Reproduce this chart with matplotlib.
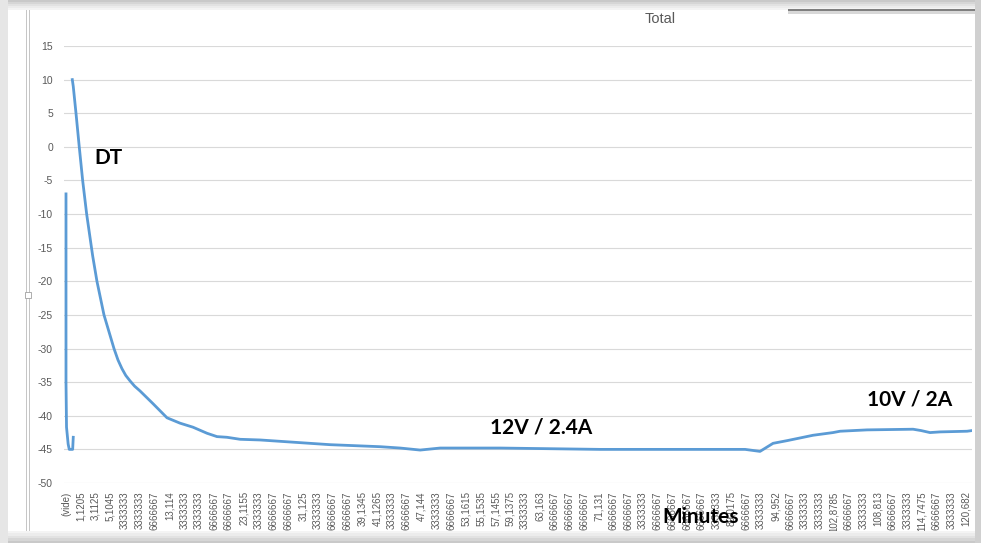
import matplotlib
matplotlib.use("Agg")
import matplotlib.pyplot as plt
from matplotlib.patches import Rectangle
import numpy as np

plt.rcParams["axes.unicode_minus"] = False

# first little spike sitting on the "(vide)" category
vide_minutes = [-0.87, -0.87, -0.80, -0.58, -0.43, 0.03, 0.11]
vide_values = [-7.0, -35.0, -41.7, -44.2, -45.0, -45.0, -43.2]

# main temperature trace (minutes, value)
minutes = [-0.02, 0.11, 0.48, 0.92, 1.38, 1.92, 2.73, 3.31, 4.26, 5.61,
           6.15, 6.69, 7.20, 7.77, 8.40, 9.12, 10.88, 12.77, 14.53, 16.28,
           18.17, 19.52, 20.87, 22.65, 25.35, 30.75, 34.80, 41.56, 44.26, 46.96,
           49.66, 57.76, 71.26, 84.76, 90.84, 92.86, 94.62, 96.51, 98.27, 100.02,
           102.72, 103.67, 107.31, 113.53, 114.61, 115.82, 117.17, 120.82, 121.49]
values = [10.0, 9.0, 5.0, 0.0, -5.0, -10.0, -16.2, -20.0, -25.0, -30.0,
          -31.7, -33.0, -34.0, -34.8, -35.6, -36.3, -38.2, -40.3, -41.1, -41.7,
          -42.6, -43.1, -43.2, -43.5, -43.6, -44.0, -44.3, -44.6, -44.8, -45.1,
          -44.8, -44.8, -45.0, -45.0, -45.0, -45.3, -44.1, -43.7, -43.3, -42.9,
          -42.5, -42.3, -42.1, -42.0, -42.2, -42.5, -42.4, -42.3, -42.2]

tick_minutes = [-0.87, 1.1205, 3.1125, 5.1045, 7.10, 9.10, 11.11, 13.114, 15.11, 17.11,
                19.12, 21.12, 23.1155, 25.12, 27.12, 29.12, 31.125, 33.13, 35.13, 37.13,
                39.1345, 41.1265, 43.14, 45.14, 47.144, 49.15, 51.15, 53.1615, 55.1535, 57.1455,
                59.1375, 61.14, 63.163, 65.16, 67.15, 69.14, 71.131, 73.11, 75.09, 77.08,
                79.06, 81.04, 83.02, 85.01, 86.99, 89.0175, 90.99, 92.97, 94.952, 96.93,
                98.91, 100.90, 102.8785, 104.86, 106.84, 108.813, 110.79, 112.77, 114.7475, 116.73,
                118.71, 120.682]
tick_labels = ["(vide)", "1,1205", "3,1125", "5,1045", "3333333", "3333333", "6666667", "13,114", "3333333", "3333333",
               "6666667", "6666667", "23,1155", "3333333", "6666667", "6666667", "31,125", "3333333", "6666667", "6666667",
               "39,1345", "41,1265", "3333333", "6666667", "47,144", "3333333", "6666667", "53,1615", "55,1535", "57,1455",
               "59,1375", "3333333", "63,163", "6666667", "6666667", "6666667", "71,131", "6666667", "6666667", "3333333",
               "6666667", "6666667", "6666667", "6666667", "3333333", "89,0175", "6666667", "3333333", "94,952", "6666667",
               "3333333", "3333333", "102,8785", "6666667", "3333333", "108,813", "6666667", "3333333", "114,7475", "6666667",
               "3333333", "120,682"]
y_ticks = [15, 10, 5, 0, -5, -10, -15, -20, -25, -30, -35, -40, -45, -50]

W, H = 981, 543
fig = plt.figure(figsize=(W / 100, H / 100), dpi=100)
fig.patch.set_facecolor("white")

ax = fig.add_axes([64 / W, 1 - 483 / H, (972 - 64) / W, (483 - 46) / H])
blue = "#5B9BD5"
ax.plot(vide_minutes, vide_values, color=blue, lw=2.0, solid_joinstyle="round")
ax.plot(minutes, values, color=blue, lw=2.0, solid_joinstyle="round")

ax.set_xlim(-1.14, 121.49)
ax.set_ylim(-50, 15)
ax.set_yticks(y_ticks)
ax.set_xticks(tick_minutes, labels=tick_labels, rotation=90)
ax.grid(axis="y", color="#D9D9D9", lw=0.8)
ax.grid(axis="x", visible=False)
ax.set_axisbelow(True)
for s in ax.spines.values():
    s.set_visible(False)
ax.tick_params(axis="y", length=0, pad=8, labelsize=7.5, labelcolor="#595959")
ax.tick_params(axis="x", length=0, pad=6, labelsize=7, labelcolor="#595959")
for t in ax.get_xticklabels() + ax.get_yticklabels():
    t.set_fontfamily(["Liberation Sans", "DejaVu Sans"])

# annotations
bold = dict(fontsize=15, fontweight="bold", color="black",
            family=["Lato", "DejaVu Sans"], ha="center", va="center")
fig.text(108 / W, 1 - 158 / H, "DT", **bold)
fig.text(541 / W, 1 - 428 / H, "12V / 2.4A", **bold)
fig.text(910 / W, 1 - 400 / H, "10V / 2A", **bold)
fig.text(701 / W, 1 - 517 / H, "Minutes", zorder=20, **bold)

fig.text(660 / W, 1 - 19 / H, "Total", fontsize=10.5, color="#595959",
         family=["Liberation Sans", "DejaVu Sans"], ha="center", va="center")

# window chrome around the screenshot
def px_rect(x0, y0, x1, y1, **kw):
    fig.patches.append(Rectangle((x0 / W, 1 - y1 / H), (x1 - x0) / W, (y1 - y0) / H,
                                 transform=fig.transFigure, zorder=15, **kw))

shades = ["#C9C9C9", "#D6D6D6", "#E2E2E2", "#ECECEC", "#F4F4F4"]
for i, c in enumerate(shades):
    px_rect(0, i * 2, W, i * 2 + 2, color=c, lw=0)
    px_rect(0, 531 + i * 2.4, W, 531 + (i + 1) * 2.4 + 0.5, color=shades[::-1][i], lw=0)
px_rect(0, 0, 8, H, color="#E6E6E6", lw=0)
px_rect(975, 0, W, H, color="#D0D0D0", lw=0)
px_rect(26, 10, 27, 531, color="#C6C6C6", lw=0)
px_rect(29, 10, 30, 531, color="#C6C6C6", lw=0)
px_rect(25, 292, 31, 298, facecolor="white", edgecolor="#A0A0A0", lw=0.6)
px_rect(788, 9, 975, 11, color="#7F7F7F", lw=0)
px_rect(788, 11, 975, 14, color="#D8D8D8", lw=0)

fig.savefig("out.png", dpi=100)
